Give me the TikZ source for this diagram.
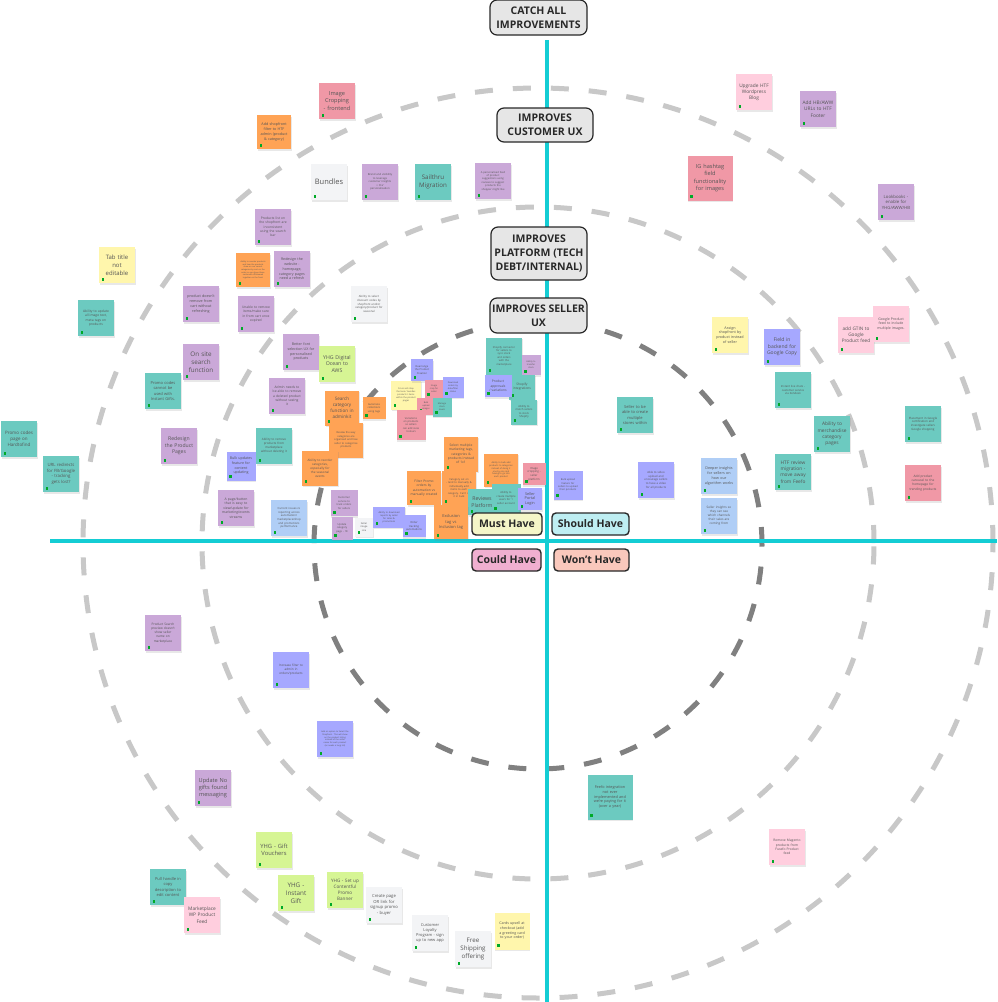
\documentclass[tikz,border=0pt]{standalone}
\usepackage{fontspec}
\setmainfont{Open Sans}
\usepackage{xcolor}
\usetikzlibrary{shadows}

\begin{document}
\begin{tikzpicture}[x=1pt, y=-1pt,
    sticky/.style={fill=#1, text=notetext, align=center, text width=31pt,
        inner xsep=2.5pt, inner ysep=1pt, minimum height=36pt,
        drop shadow={shadow xshift=0.6pt, shadow yshift=-1.8pt, opacity=0.18},
        path picture={\fill[noteicon] ([shift={(2.5pt,2.5pt)}]path picture bounding box.south west) rectangle ++(2.8pt,2.8pt);}},
    sz/.style 2 args={text width=#1, minimum height=#2},
    fs/.style={font=\fontsize{#1}{\dimexpr#1pt*13/10\relax}\selectfont},
    ring/.style={draw=#1, line width=5pt, dash pattern=on 18pt off 20pt},
    axis/.style={draw=axiscyan, line width=4.5pt},
    stage/.style={draw=labelline, fill=labelfill, text=labelline, rounded corners=7pt,
        line width=1.2pt, align=center, font=\bfseries\fontsize{10.5}{14}\selectfont, inner sep=1pt},
    quad/.style={draw=labelline, fill=#1, text=labelline, rounded corners=4pt,
        line width=1.4pt, font=\bfseries\fontsize{10.5}{12}\selectfont, minimum height=22pt, inner sep=1pt}
]
    % Define colors
    \definecolor{axiscyan}{RGB}{20, 205, 212}
    \definecolor{ringlight}{RGB}{200, 200, 200}
    \definecolor{ringdark}{RGB}{128, 128, 128}
    \definecolor{labelfill}{RGB}{230, 230, 230}
    \definecolor{labelline}{RGB}{40, 40, 40}
    \definecolor{mustfill}{RGB}{245, 246, 200}
    \definecolor{shouldfill}{RGB}{190, 238, 242}
    \definecolor{couldfill}{RGB}{240, 175, 208}
    \definecolor{wontfill}{RGB}{250, 200, 188}
    \definecolor{notetext}{RGB}{85, 85, 85}
    \definecolor{noteicon}{RGB}{0, 170, 40}
    \definecolor{nred}{RGB}{240, 152, 166}
    \definecolor{norange}{RGB}{255, 163, 85}
    \definecolor{npurple}{RGB}{202, 168, 216}
    \definecolor{nteal}{RGB}{108, 202, 192}
    \definecolor{ngrey}{RGB}{243, 244, 246}
    \definecolor{nyellow}{RGB}{255, 246, 172}
    \definecolor{npink}{RGB}{255, 206, 222}
    \definecolor{nblue}{RGB}{166, 168, 255}
    \definecolor{nlblue}{RGB}{176, 206, 246}
    \definecolor{nlime}{RGB}{214, 245, 148}

    \path[use as bounding box, fill=white] (0,0) rectangle (997,1002);

    % Draw rings
    \draw[ring=ringlight] (538,543) circle[radius=455pt];
    \draw[ring=ringlight] (538,543) circle[radius=336pt];
    \draw[ring=ringdark] (538,545) circle[radius=224pt];

    % Draw axes
    \coordinate (axTop) at (547,40);
    \coordinate (axBottom) at (547,1002);
    \coordinate (axLeft) at (50,541);
    \coordinate (axRight) at (997,541);
    \draw[axis] (axTop) -- (axBottom);
    \draw[axis] (axLeft) -- (axRight);

    % Customer UX ring
    \node[sticky=nred, fs=5.6] (imgCrop) at (337,101) {Image\\Cropping\\- frontend};
    \node[sticky=norange, sz={29pt}{34pt}, fs=3.7] (shopFilter) at (274,132) {Add shopfront\\filter to HTF\\admin (product\\\& category)};
    \node[sticky=ngrey, fs=7.5] (bundles) at (329,182) {Bundles};
    \node[sticky=npurple, fs=2.7] (insight) at (380,182) {Brand and visibility\\to leverage\\customer insights\\+ CLV\\personalisation};
    \node[sticky=nteal, fs=6.2] (sailthru) at (433,182) {Sailthru\\Migration};
    \node[sticky=npurple, fs=2.6] (persFeed) at (493,181) {A personalised feed\\of product\\suggestions using\\reviews to suggest\\products the\\shopper might like};
    \node[sticky=npurple, fs=3.3] (listInc) at (273,227) {Products list on\\the shopfront are\\inconsistent\\using the search\\bar};
    \node[sticky=norange, sz={29pt}{34pt}, fs=2] (catOrder) at (253,270) {Ability to reorder products\\and how the products\\show on our search\\categories by sort on the\\order so you have these\\sectioned off/showed\\together on the front};
    \node[sticky=npurple, fs=3.6] (redesignSite) at (292,269) {Redesign the\\website -\\homepage,\\category pages\\need a refresh};
    \node[sticky=nyellow, fs=6] (tabTitle) at (117,265) {Tab title\\not\\editable};
    \node[sticky=nteal, fs=3.3] (imgText) at (96,318) {Ability to update\\all image text,\\meta tags on\\products};
    \node[sticky=npurple, fs=3.7] (cartRefresh) at (201,304) {product doesn't\\remove from\\cart without\\refreshing};
    \node[sticky=npurple, fs=3.3] (removeItems) at (256,314) {Unable to remove\\items/make sure\\in from cart once\\expired};
    \node[sticky=ngrey, fs=2.8] (discount) at (369,304) {Ability to select\\discount codes by\\shopfront and/or\\category/product for\\seasonal};
    \node[sticky=npurple, fs=6.3] (siteSearch) at (201,362) {On site\\search\\function};
    \node[sticky=nteal, fs=4] (promoGifts) at (163,391) {Promo codes\\cannot be\\used with\\Instant Gifts.};
    \node[sticky=nteal, fs=4.5] (promoPage) at (19,439) {Promo codes\\page on\\Hardtofind};
    \node[sticky=nteal, fs=4.3] (redirects) at (61,474) {URL redirects\\for FB/Google\\- tracking\\gets lost?};
    \node[sticky=npurple, fs=5.1] (prodPages) at (179,446) {Redesign\\the Product\\Pages};

    % Platform ring
    \node[sticky=nblue, sz={24pt}{29pt}, fs=3.6] (bulkUpd) at (241,466) {Bulk updates\\feature for\\content\\updating};
    \node[sticky=nteal, fs=3] (removeMkt) at (274,446) {Ability to remove\\products from\\marketplace\\without deleting it};
    \node[sticky=npurple, fs=3.4] (pageBtn) at (236,508) {A page/button\\that is easy to\\view/update for\\marketing/events\\streams};
    \node[sticky=nlblue, fs=2.8] (reporting) at (289,518) {Current issues re\\reporting across\\automation/\\marketplace/shop\\and promotions\\performance};
    \node[sticky=npurple, fs=3.6] (fontUX) at (301,352) {Better font\\selection UX for\\personalised\\products};
    \node[sticky=nlime, fs=5.2] (aws) at (337,364) {YHG Digital\\Ocean to\\AWS};
    \node[sticky=npurple, fs=3.3] (adminDel) at (287,396) {Admin needs to\\be able to remove\\a deleted product\\without seeing\\it};
    \node[sticky=norange, sz={29pt}{35pt}, fs=4.6] (catSearch) at (342,408) {Search\\category\\function in\\adminkit};
    \node[sticky=norange, sz={18pt}{22pt}, fs=2.6] (autoTags) at (374,408) {Automate\\collections\\using tags};
    \node[sticky=norange, sz={29pt}{35pt}, fs=2.6] (catReview) at (346,440) {Review the way\\categories are\\organised and how\\seller to categorise\\products};
    \node[sticky=norange, sz={31pt}{35pt}, fs=3.1] (reorderCat) at (320,468) {Ability to reorder\\categories,\\especially for\\the seasonal\\events};
    \node[sticky=npurple, sz={22pt}{26pt}, fs=2.6] (custService) at (344,503) {Customer\\service to\\track orders\\for sellers};
    \node[sticky=npurple, sz={16pt}{23pt}, fs=2.6] (catPage) at (342,528) {Update\\category\\page - 18};
    \node[sticky=ngrey, sz={13pt}{19pt}, fs=2.4] (imgSize) at (364,527) {Seller\\image\\size};

    % Seller UX ring
    \node[sticky=nyellow, sz={25pt}{29pt}, fs=2.2] (crossSell) at (406,395) {Cross sell shop\\the look / bundles\\products / items\\within the product\\pages};
    \node[sticky=nblue, sz={17pt}{22pt}, fs=2.6] (rearrange) at (422,370) {Rearrange\\the Product\\Creation};
    \node[sticky=nred, sz={14pt}{18pt}, fs=2.2] (cropSmall) at (434,389) {Image\\crop for\\seller};
    \node[sticky=nblue, sz={16pt}{21pt}, fs=2.2] (download) at (453,387) {Download\\orders by\\date/filter\\status};
    \node[sticky=nred, sz={13pt}{17pt}, fs=2.2] (bulkImg) at (426,406) {Bulk\\upload\\images};
    \node[sticky=nteal, sz={14pt}{19pt}, fs=2.2] (stockLvl) at (442,407) {Manage\\stock\\levels};
    \node[sticky=nred, sz={24pt}{30pt}, fs=2.6] (variations) at (411,425) {Variations\\on products\\so sellers\\can add sizes\\/colours};
    \node[sticky=nteal, sz={31pt}{37pt}, fs=2.6] (shopifySync) at (504,356) {Shopify connector\\for sellers to\\sync stock\\and orders\\with the\\marketplace};
    \node[sticky=npurple, sz={14pt}{20pt}, fs=2.2] (transfer) at (531,365) {Ability to\\transfer\\stock};
    \node[sticky=nteal, sz={21pt}{25pt}, fs=3.2] (shopify) at (522,387) {Shopify\\integrations};
    \node[sticky=nblue, sz={22pt}{22pt}, fs=3.3] (approvals) at (498,386) {Product\\approvals\\/ variations};
    \node[sticky=nteal, sz={21pt}{25pt}, fs=2.7] (stockMatch) at (524,412) {Ability to\\match sellers\\to stock\\Shopify};
    \node[sticky=norange, sz={29pt}{35pt}, fs=3.3] (multiTag) at (461,454) {Select multiple\\marketing tags,\\categories \&\\products instead\\of 1x1};
    \node[sticky=norange, sz={29pt}{33pt}, fs=2.2] (bulkCat) at (501,470) {Ability to bulk add\\products to categories\\instead of doing it\\one by one and\\having to go into\\each product};
    \node[sticky=nred, sz={18pt}{22pt}, fs=2.8] (cropSeller) at (534,474) {Image\\cropping -\\seller\\platform};
    \node[sticky=norange, sz={29pt}{34pt}, fs=3.3] (promoFilter) at (424,488) {Filter Promo\\orders by\\automation vs\\manually created};
    \node[sticky=norange, sz={29pt}{34pt}, fs=2.6] (catSet) at (459,488) {Category set on\\- tend to manually \&\\individually add\\items to each\\category. Can't do\\it in bulk};
    \node[sticky=nteal, sz={23pt}{26pt}, fs=5.2] (reviews) at (482,502) {Reviews\\Platform};
    \node[sticky=nteal, sz={24pt}{29pt}, fs=2.7] (multiUser) at (506,498) {Ability to\\create multiple\\users for 1\\seller account};
    \node[sticky=nblue, sz={19pt}{22pt}, fs=3.8] (sellerLogin) at (530,499) {Seller\\Portal\\Login};
    \node[sticky=norange, sz={29pt}{34pt}, fs=4] (exclusion) at (451,522) {Exclusion\\tag vs\\Inclusion tag};
    \node[sticky=nblue, sz={27pt}{21pt}, fs=2.3] (reportDl) at (389,517) {Ability to download\\reports by seller\\for sales \&\\promotions};
    \node[sticky=nblue, sz={18pt}{22pt}, fs=2.7] (orderTrack) at (414,526) {Order\\tracking\\automations};

    % Should Have
    \node[sticky=npink, fs=4.8] (blog) at (754,92) {Upgrade HTF\\Wordpress\\Blog};
    \node[sticky=npurple, fs=4.8] (footer) at (818,109) {Add HB/AWW\\URLs to HTF\\Footer};
    \node[sticky=nred, sz={40pt}{45pt}, fs=5.6] (hashtag) at (710,178) {IG hashtag\\field\\functionality\\for images};
    \node[sticky=npurple, fs=4.3] (lookbook) at (896,202) {Lookbooks -\\enable for\\YHG/AWW/HB};
    \node[sticky=nyellow, fs=3.7] (assign) at (730,335) {Assign\\shopfront by\\product instead\\of seller};
    \node[sticky=nblue, fs=5] (googleCopy) at (782,347) {Field in\\backend for\\Google Copy};
    \node[sticky=npink, fs=4.7] (gtin) at (856,335) {add GTIN to\\Google\\Product feed};
    \node[sticky=npink, fs=3.5] (multiImg) at (891,324) {Google Product\\feed to include\\multiple images.};
    \node[sticky=nteal, fs=2.8] (liveChat) at (793,390) {Instant live chats -\\customer service\\via Zendesk};
    \node[sticky=nteal, fs=4.8] (merch) at (832,434) {Ability to\\merchandise\\category\\pages};
    \node[sticky=nteal, fs=4.8] (feefoMig) at (793,472) {HTF review\\migration -\\move away\\from Feefo};
    \node[sticky=nteal, fs=2.9] (googleCert) at (923,424) {Placement in Google\\certification and\\investigate sellers\\Google shopping};
    \node[sticky=nred, fs=3.2] (carousel) at (923,483) {Add product\\carousel to the\\homepage for\\trending products};
    \node[sticky=nteal, fs=4] (multiStore) at (635,415) {Seller to be\\able to create\\multiple\\stores within};
    \node[sticky=nblue, sz={24pt}{29pt}, fs=2.5] (bulkUpl) at (568,485) {Bulk upload\\feature for\\sellers to upload\\their products};
    \node[sticky=nblue, fs=2.8] (video) at (656,480) {Able to video\\upload and\\encourage sellers\\to have a video\\for all products};
    \node[sticky=nlblue, fs=3.7] (algo) at (719,476) {Deeper insights\\for sellers on\\how our\\algorithm works};
    \node[sticky=nlblue, fs=3.1] (channels) at (719,516) {Seller insights so\\they can see\\which channels\\their sales are\\coming from};

    % Could Have
    \node[sticky=npurple, fs=3.2] (preview) at (163,633) {Product Search\\preview doesn't\\show seller\\name on\\marketplace};
    \node[sticky=nblue, fs=3.1] (filterAdmin) at (291,670) {Increase filter to\\admin in\\orders/products};
    \node[sticky=nblue, fs=2.1] (shopfrontOpt) at (335,739) {Add an option to Select the\\Shopfront. This will show\\on the product listing\\instead of the seller\\name for each product\\(as needs a long list)};
    \node[sticky=npurple, fs=5.6] (noGifts) at (213,788) {Update No\\gifts found\\messaging};
    \node[sticky=nlime, fs=5.8] (vouchers) at (274,850) {YHG - Gift\\Vouchers};
    \node[sticky=nteal, fs=4] (pullHandle) at (168,887) {Pull handle in\\copy\\description to\\edit content};
    \node[sticky=npink, fs=4.8] (wpFeed) at (202,915) {Marketplace\\WP Product\\Feed};
    \node[sticky=nlime, fs=6.3] (instantGift) at (296,893) {YHG -\\Instant\\Gift};
    \node[sticky=nlime, fs=4.6] (contentful) at (345,890) {YHG - Set up\\Contentful\\Promo\\Banner};
    \node[sticky=ngrey, fs=4.2] (signup) at (384,905) {Create page\\OR link for\\signup promo\\- buyer};
    \node[sticky=ngrey, fs=4] (loyalty) at (430,933) {Customer\\Loyalty\\Program - sign\\up to new app};
    \node[sticky=ngrey, fs=6.2] (shipping) at (473,949) {Free\\Shipping\\offering};
    \node[sticky=nyellow, sz={30pt}{37pt}, fs=3.6] (cards) at (512,931) {Cards upsell at\\checkout (add\\a greeting card\\to your order)};

    % Won't Have
    \node[sticky=nteal, sz={40pt}{45pt}, fs=3.8] (feefo) at (610,797) {Feefo integration\\not ever\\implemented and\\we're paying for it\\(over a year)};
    \node[sticky=npink, fs=3.3] (magento) at (787,847) {Remove Magento\\products from\\Fusefo Product\\feed};

    % Ring labels
    \node[stage, minimum width=97pt, minimum height=35pt] (catchAll) at (538.5,17.5) {CATCH ALL\\IMPROVEMENTS};
    \node[stage, minimum width=96pt, minimum height=34pt] (custUX) at (545,125) {IMPROVES\\CUSTOMER UX};
    \node[stage, minimum width=96pt, minimum height=53pt] (platform) at (539,253.5) {IMPROVES\\PLATFORM (TECH\\DEBT/INTERNAL)};
    \node[stage, minimum width=97pt, minimum height=35pt] (sellerUX) at (538.5,315.5) {IMPROVES SELLER\\UX};

    % Quadrant labels
    \node[quad=mustfill, minimum width=70pt] (must) at (507,524) {Must Have};
    \node[quad=shouldfill, minimum width=77pt] (should) at (590.5,524) {Should Have};
    \node[quad=couldfill, minimum width=69pt] (could) at (506.5,560) {Could Have};
    \node[quad=wontfill, minimum width=75pt] (wont) at (591.5,560) {Won't Have};
\end{tikzpicture}
\end{document}
